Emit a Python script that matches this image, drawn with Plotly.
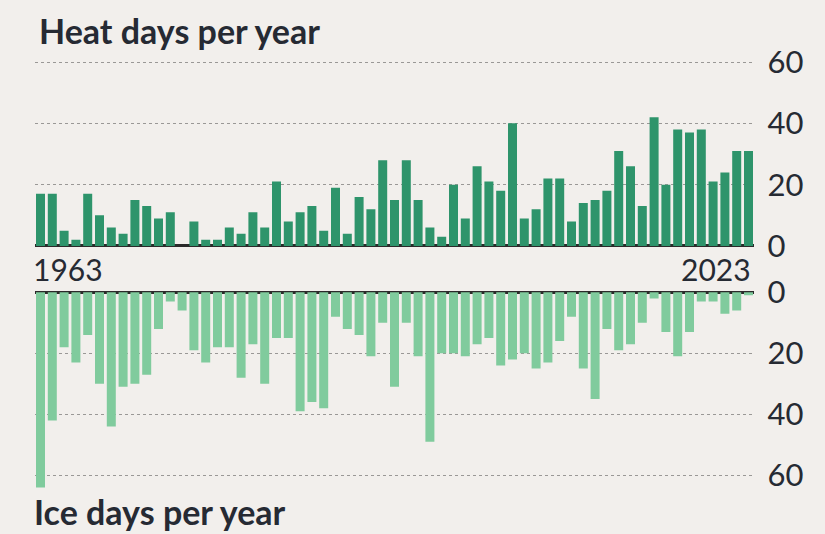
import plotly.graph_objects as go

years = list(range(1963, 2024))
heat_days = [17, 17, 5, 2, 17, 10, 6, 4, 15, 13, 9, 11, 0, 8, 2, 2, 6, 4, 11, 6,
             21, 8, 11, 13, 5, 19, 4, 16, 12, 28, 15, 28, 15, 6, 3, 20, 9, 26, 21, 18,
             40, 9, 12, 22, 22, 8, 14, 15, 18, 31, 26, 13, 42, 20, 38, 37, 38, 21, 24, 31, 31]
ice_days = [64, 42, 18, 23, 14, 30, 44, 31, 30, 27, 12, 3, 6, 19, 23, 18, 18, 28, 17, 30,
            15, 15, 39, 36, 38, 8, 12, 14, 21, 10, 31, 10, 21, 49, 20, 20, 21, 17, 15, 24,
            22, 20, 25, 23, 16, 8, 25, 35, 12, 19, 17, 10, 2, 13, 21, 13, 3, 3, 7, 6, 1]
tick_vals = [0, 20, 40, 60]
tick_text = ["0", "20", "40", "60"]
first_label = "1963"
last_label = "2023"
heat_title = "Heat days per year"
ice_title = "Ice days per year"

BG = "#f2efec"
HEAT_COLOR = "#2e946b"
ICE_COLOR = "#80cb9d"
TEXT = "#262a33"
TITLE_FONT = "Lato, Open Sans, sans-serif"
TICK_FONT = "Lato, Open Sans, sans-serif"

fig = go.Figure()
fig.add_trace(go.Bar(x=years, y=heat_days, marker=dict(color=HEAT_COLOR, line=dict(width=0)),
                     xaxis="x", yaxis="y", showlegend=False, hoverinfo="x+y"))
fig.add_trace(go.Bar(x=years, y=ice_days, marker=dict(color=ICE_COLOR, line=dict(width=0)),
                     xaxis="x2", yaxis="y2", showlegend=False, hoverinfo="x+y"))

xdom = [34.6 / 825, 754.4 / 825]
xr = [years[0] - 0.5, years[-1] + 0.5]
common_x = dict(domain=xdom, range=xr, showticklabels=False, showgrid=False,
                zeroline=False, showline=False, ticks="", automargin=False)
common_y = dict(side="right", tickvals=tick_vals, ticktext=tick_text, automargin=False,
                showgrid=True, gridcolor="#9a9896", griddash="dot", gridwidth=1,
                zeroline=True, zerolinecolor="#2b2a2a", zerolinewidth=2.5,
                showline=False, ticks="outside", ticklen=6, tickcolor="rgba(0,0,0,0)",
                tickfont=dict(family=TICK_FONT, size=31, color=TEXT))

fig.update_layout(
    width=825, height=534, autosize=False,
    margin=dict(l=0, r=0, t=0, b=0, pad=0),
    paper_bgcolor=BG, plot_bgcolor=BG,
    bargap=0.237,
    xaxis=dict(**common_x, anchor="y"),
    xaxis2=dict(**common_x, anchor="y2"),
    yaxis=dict(**common_y, domain=[1 - 246.9 / 534, 1 - 55.9 / 534], range=[-0.3, 62], anchor="x"),
    yaxis2=dict(**common_y, domain=[1 - 493.6 / 534, 1 - 291.4 / 534], range=[66, -0.3], anchor="x2"),
)

fig.add_annotation(text=heat_title, xref="paper", yref="paper", x=37 / 825, y=1 - 8 / 534,
                   xanchor="left", yanchor="top", showarrow=False,
                   font=dict(family=TITLE_FONT, size=34, color=TEXT, weight="bold"))
fig.add_annotation(text=ice_title, xref="paper", yref="paper", x=32 / 825, y=1 - 489 / 534,
                   xanchor="left", yanchor="top", showarrow=False,
                   font=dict(family=TITLE_FONT, size=34, color=TEXT, weight="bold"))
fig.add_annotation(text=first_label, xref="x", yref="paper", x=xr[0], y=1 - 269 / 534,
                   xanchor="left", yanchor="middle", showarrow=False, xshift=-4,
                   font=dict(family=TICK_FONT, size=30, color=TEXT))
fig.add_annotation(text=last_label, xref="x", yref="paper", x=xr[1], y=1 - 269 / 534,
                   xanchor="right", yanchor="middle", showarrow=False, xshift=-1,
                   font=dict(family=TICK_FONT, size=30, color=TEXT))

fig.write_html("out.html", config={"displayModeBar": False},
               post_script="document.body.style.margin='0';document.body.style.overflow='hidden';")
